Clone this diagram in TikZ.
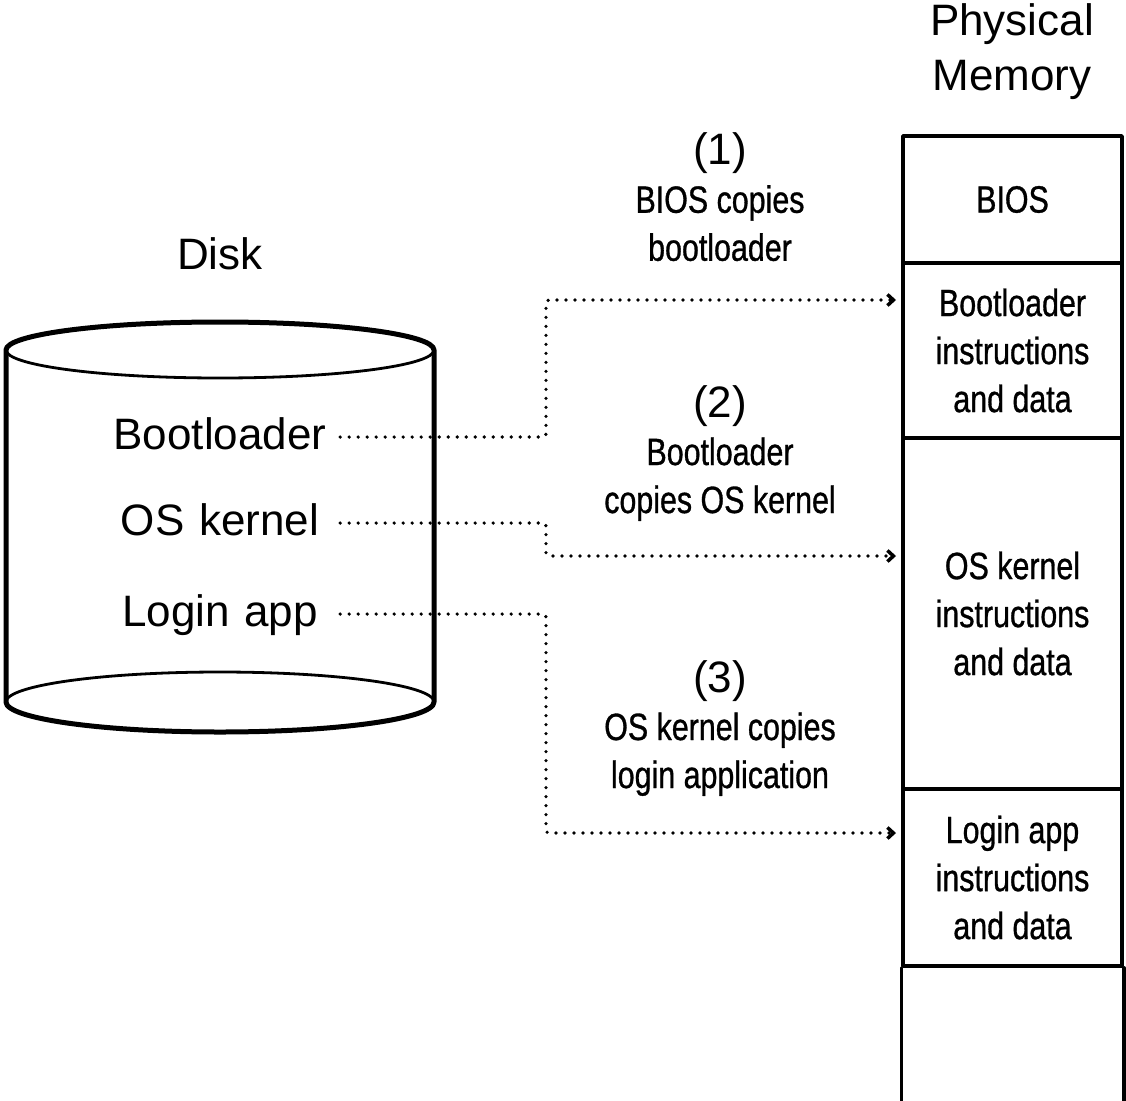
\documentclass[tikz,border=0pt]{standalone}
\usepackage{fontspec}
\setmainfont{Liberation Sans}
\newfontfamily\condfont[FakeStretch=0.8, FakeBold=0.8]{Liberation Sans}
\usetikzlibrary{arrows.meta}

\begin{document}
\begin{tikzpicture}[x=1pt, y=-1pt, line cap=round, line join=round, font=\fontsize{44}{55}\selectfont, >={Straight Barb[length=6pt,width=11pt,line width=3.5pt]}]
			\tikzset{disk label/.style={text width=240pt, align=center, inner sep=0pt, text height=24pt, text depth=0pt},
			note label/.style={align=center, font=\condfont\fontsize{38}{48}\selectfont},
			mem cell/.style={draw, line width=3.5pt, minimum width=219pt, align=center, inner sep=0pt, font=\condfont\fontsize{38}{48}\selectfont},
			copy arrow/.style={->, line width=3.6pt, dash pattern=on 0pt off 9pt, rounded corners=3pt}}
			\useasboundingbox (0,0) rectangle (1126,1100);
			\draw[line width=2.8pt] (220,350) ellipse [x radius=214, y radius=28];
			\draw[line width=2.8pt] (220,702) ellipse [x radius=214, y radius=30];
			\draw[line width=5pt] (6,350) -- (6,702) arc[start angle=180, end angle=0, x radius=214, y radius=30]
			-- (434,350) arc[start angle=0, end angle=-180, x radius=214, y radius=28] -- cycle;
			\node (disk) at (220,254) {Disk};
			\node[align=center] (physmem) at (1012,52) {Physical\\Memory};
			\node[disk label] (bootdisk) at (220,437) {Bootloader};
			\node[disk label] (osdisk) at (220,523) {OS kernel};
			\node[disk label] (logindisk) at (220,614) {Login app};
			\node[mem cell, minimum height=127pt] (biosmem) at (1012.5,199.5) {BIOS};
			\node[mem cell, minimum height=175pt] (bootmem) at (1012.5,350.5) {Bootloader\\instructions\\and data};
			\node[mem cell, minimum height=351pt] (osmem) at (1012.5,613.5) {OS kernel\\instructions\\and data};
			\node[mem cell, minimum height=177pt] (loginmem) at (1012.5,877.5) {Login app\\instructions\\and data};
			\draw[line width=3.5pt] (loginmem.south west) -- ++(0,140) (loginmem.south east) -- ++(0,140);
			\node[note label] (copy1) at (720,197) {{\normalfont\fontsize{44}{55}\selectfont (1)}\\BIOS copies\\bootloader};
			\node[note label] (copy2) at (720,453) {{\normalfont\fontsize{44}{55}\selectfont (2)}\\Bootloader\\copies OS kernel};
			\node[note label] (copy3) at (720,728) {{\normalfont\fontsize{44}{55}\selectfont (3)}\\OS kernel copies\\login application};
			\coordinate (bend) at (546,0);
			\coordinate (in1) at (896,300);
			\coordinate (in2) at (896,556);
			\coordinate (in3) at (896,833);
			\draw[copy arrow] (bootdisk.east) -- (bootdisk.east -| bend) |- (in1);
			\draw[copy arrow] (osdisk.east) -- (osdisk.east -| bend) |- (in2);
			\draw[copy arrow] (logindisk.east) -- (logindisk.east -| bend) |- (in3);
	\end{tikzpicture}
\end{document}
